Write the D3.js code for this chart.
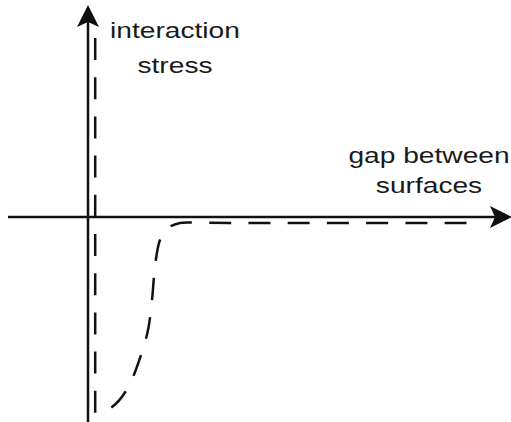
<!DOCTYPE html>
<html>
<head>
<meta charset="utf-8">
<script src="https://cdn.jsdelivr.net/npm/d3@7"></script>
<style>
  html, body { margin: 0; padding: 0; background: #fff; }
  svg { display: block; }
</style>
</head>
<body>
<div id="chart"></div>
<script>
// Interaction stress vs gap between surfaces (schematic)
const gap = [0.18, 0.18, 0.6, 0.98, 1.3, 1.5, 1.6, 1.68, 1.8, 2.0, 2.3, 2.68, 3.55, 9.8];
const stress = [8.95, -9.8, -9.5, -8.6, -7.05, -5.65, -4.15, -2.4, -1.15, -0.55, -0.3, -0.28, -0.3, -0.3];

const xAxisExtent = [-2, 10.6];   // gap units
const yAxisExtent = [-10.25, 10.6]; // stress units

const yLabelLines = ["interaction", "stress"];
const xLabelLines = ["gap between", "surfaces"];

(function() {
  "use strict";

  const width = 511, height = 422;
  const ink = "#111";

  const x = d3.scaleLinear().domain([0, 10]).range([88, 488]);
  const y = d3.scaleLinear().domain([-10, 10]).range([417, 17]);

  const svg = d3.select("#chart").append("svg")
      .attr("width", width)
      .attr("height", height)
      .attr("viewBox", [0, 0, width, height]);

  // axes lines
  svg.append("line")
      .attr("x1", x(xAxisExtent[0])).attr("x2", x(xAxisExtent[1]) - 10)
      .attr("y1", y(0)).attr("y2", y(0))
      .attr("stroke", ink).attr("stroke-width", 2.5);

  svg.append("line")
      .attr("x1", x(0)).attr("x2", x(0))
      .attr("y1", y(yAxisExtent[0])).attr("y2", y(yAxisExtent[1]) + 10)
      .attr("stroke", ink).attr("stroke-width", 2.5);

  // arrowheads (tip at origin, pointing right)
  const head = "M0,0L-22,-11L-17,0L-22,11Z";
  svg.append("path")
      .attr("d", head)
      .attr("transform", `translate(${x(xAxisExtent[1])},${y(0)})`)
      .attr("fill", ink);
  svg.append("path")
      .attr("d", head)
      .attr("transform", `translate(${x(0)},${y(yAxisExtent[1])}) rotate(-90)`)
      .attr("fill", ink);

  // dashed stress curve: straight wall, then smooth well
  const pts = gap.map((g, i) => [g, stress[i]]);
  const wall = d3.line().x(d => x(d[0])).y(d => y(d[1]));
  const well = d3.line()
      .x(d => x(d[0]))
      .y(d => y(d[1]))
      .curve(d3.curveCatmullRom.alpha(0.5));

  const d = wall(pts.slice(0, 2)) + well(pts.slice(1)).replace(/^M[^A-Za-z]*/, "");

  svg.append("path")
      .attr("d", d)
      .attr("fill", "none")
      .attr("stroke", ink)
      .attr("stroke-width", 2.5)
      .attr("stroke-dasharray", "22,17.2");

  // labels, stretched horizontally like the original lettering
  const font = "'Liberation Sans', Arial, Helvetica, sans-serif";
  function label(lines, cx, baselines) {
    lines.forEach((t, i) => {
      svg.append("text")
          .attr("transform", `translate(${cx},${baselines[i]}) scale(1.28,1)`)
          .attr("text-anchor", "middle")
          .attr("font-family", font)
          .attr("font-size", 22)
          .attr("fill", "#1a1a1a")
          .text(t);
    });
  }
  label(yLabelLines, 175, [38, 73]);
  label(xLabelLines, 429, [163, 193]);
})();
</script>
</body>
</html>
